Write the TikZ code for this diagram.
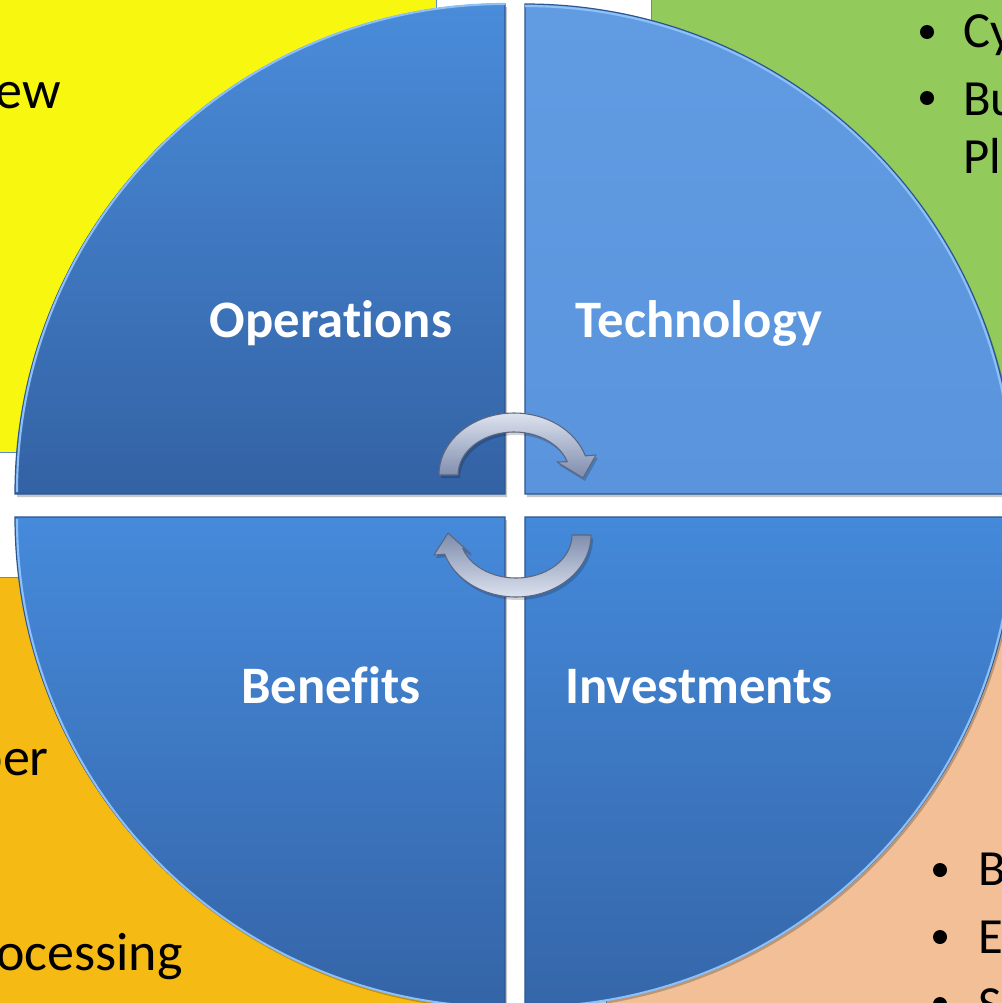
\documentclass[tikz,border=0pt]{standalone}
\usepackage{fontspec}
\setmainfont[Ligatures=NoCommon]{Carlito}
\definecolor{yelbg}{HTML}{F7F710}
\definecolor{grnbg}{HTML}{92CA5B}
\definecolor{orabg}{HTML}{F5BA14}
\definecolor{pchbg}{HTML}{F2BF96}
\definecolor{bgline}{HTML}{5B8AC8}
\definecolor{tlTop}{HTML}{4A8CDA}
\definecolor{tlBot}{HTML}{3362A4}
\definecolor{trTop}{HTML}{619CE3}
\definecolor{trBot}{HTML}{5A94DC}
\definecolor{blTop}{HTML}{468ADB}
\definecolor{blBot}{HTML}{3464A7}
\definecolor{brTop}{HTML}{4489DA}
\definecolor{brBot}{HTML}{3566A9}
\definecolor{quaddark}{HTML}{2C5691}
\definecolor{quadlight}{HTML}{8CC0F6}
\definecolor{arrlight}{HTML}{DCE2EE}
\definecolor{arrdark}{HTML}{7D8BAC}
\definecolor{arrline}{HTML}{5C6680}
\tikzset{
 bgbox/.style={draw=bgline, line width=0.75pt},
 quadshadow/.style={fill=black, opacity=0.22},
 quadedge/.style={draw=quaddark, line width=0.9pt},
 archi/.style={draw=quadlight, line width=1.6pt},
 lbl/.style={text=white, font=\bfseries\fontsize{39.5}{42}\selectfont, inner sep=0pt, anchor=base},
 bultxt/.style={font=\fontsize{38}{40}\selectfont, inner sep=0pt, anchor=base west},
 bigtxt/.style={font=\fontsize{40.5}{42}\selectfont, inner sep=0pt, anchor=base east},
 bul/.style={circle, fill=black, inner sep=0pt, minimum size=10.5pt},
 arrowbody/.style={draw=arrline, line width=0.8pt, line join=round},
}
\begin{document}
\begin{tikzpicture}[x=0.75pt,y=-0.75pt]
\useasboundingbox (0,0) rectangle (1002,1003);
\fill[white] (0,0) rectangle (1002,1003);
% background boxes
\fill[yelbg] (-5,-5) rectangle (436,452);
\draw[bgbox] (-5,-5) rectangle (436,452);
\fill[grnbg] (651,-5) rectangle (1010,470);
\draw[bgbox] (651,-5) rectangle (1010,470);
\fill[orabg] (-5,577) rectangle (480,1010);
\draw[bgbox] (-5,577) rectangle (480,1010);
\fill[pchbg] (606,560) rectangle (1010,1010);
\draw[bgbox] (606,560) rectangle (1010,1010);
% background texts
\node[bigtxt] (tyel) at (61,108) {ew};
\node[bigtxt] (tora1) at (49,775) {per};
\node[bigtxt] (tora2) at (183,970) {ocessing};
\node[bul] (bg1) at (927,32) {};
\node[bul] (bg2) at (927,98) {};
\node[bultxt] (tg1) at (963,47) {Cy};
\node[bultxt] (tg2) at (963,115) {Bu};
\node[bultxt] (tg3) at (963,173) {Pl};
\node[bul] (bp1) at (940,870) {};
\node[bul] (bp2) at (940,937) {};
\node[bul] (bp3) at (940,1004) {};
\node[bultxt] (tp1) at (978,885) {B};
\node[bultxt] (tp2) at (978,953) {E};
\node[bultxt] (tp3) at (978,1021) {S};
% shadows
\fill[quadshadow] (507,497) -- (17,497) arc[start angle=180,end angle=270,radius=490] -- cycle;
\fill[quadshadow] (527,497) -- (527,7) arc[start angle=270,end angle=360,radius=490] -- cycle;
\fill[quadshadow] (507,520) -- (17,520) arc[start angle=180,end angle=90,radius=490] -- cycle;
\fill[quadshadow] (527,520) -- (1017,520) arc[start angle=0,end angle=90,radius=490] -- cycle;
% quadrants
\shade[top color=tlTop,bottom color=tlBot] (505,494) -- (15,494) arc[start angle=180,end angle=270,radius=490] -- cycle;
\draw[quadedge] (505,494) -- (15,494) arc[start angle=180,end angle=270,radius=490] -- cycle;
\draw[archi] (17,492) arc[start angle=180,end angle=270,radius=488];
\shade[top color=trTop,bottom color=trBot] (525,494) -- (525,4) arc[start angle=270,end angle=360,radius=490] -- cycle;
\draw[quadedge] (525,494) -- (525,4) arc[start angle=270,end angle=360,radius=490] -- cycle;
\draw[archi] (525,6) arc[start angle=270,end angle=360,radius=488];
\shade[top color=blTop,bottom color=blBot] (505,517) -- (15,517) arc[start angle=180,end angle=90,radius=490] -- cycle;
\draw[quadedge] (505,517) -- (15,517) arc[start angle=180,end angle=90,radius=490] -- cycle;
\draw[archi] (17,519) arc[start angle=180,end angle=90,radius=488];
\shade[top color=brTop,bottom color=brBot] (525,517) -- (1015,517) arc[start angle=0,end angle=90,radius=490] -- cycle;
\draw[quadedge] (525,517) -- (1015,517) arc[start angle=0,end angle=90,radius=490] -- cycle;
\draw[archi] (1013,519) arc[start angle=0,end angle=90,radius=488];
% labels
\node[lbl] (ops) at (331,337) {Operations};
\node[lbl] (tech) at (699,337) {Technology};
\node[lbl] (ben) at (331,703) {Benefits};
\node[lbl] (inv) at (699,703) {Investments};
% circular arrows
\fill[black,opacity=0.18] (460,478) -- (441,478) arc[start angle=180,end angle=342,x radius=75,y radius=62] -- (598,458) -- (585,481) -- (559,465) -- (569.3,464.7) arc[start angle=342,end angle=180,x radius=56,y radius=43] -- cycle;
\shade[top color=arrlight,bottom color=arrdark,arrowbody] (458,475) -- (439,475) arc[start angle=180,end angle=342,x radius=75,y radius=62] -- (596,455) -- (583,478) -- (557,462) -- (567.3,461.7) arc[start angle=342,end angle=180,x radius=56,y radius=43] -- cycle;
\fill[black,opacity=0.18] (574,538) -- (593,538) arc[start angle=0,end angle=162,x radius=75,y radius=62] -- (436,558) -- (450,536) -- (473,557) -- (464.7,551.3) arc[start angle=162,end angle=0,x radius=56,y radius=43] -- cycle;
\shade[top color=arrdark,bottom color=arrlight,arrowbody] (572,535) -- (591,535) arc[start angle=0,end angle=162,x radius=75,y radius=62] -- (434,555) -- (448,533) -- (471,554) -- (462.7,548.3) arc[start angle=162,end angle=0,x radius=56,y radius=43] -- cycle;
\end{tikzpicture}
\end{document}
